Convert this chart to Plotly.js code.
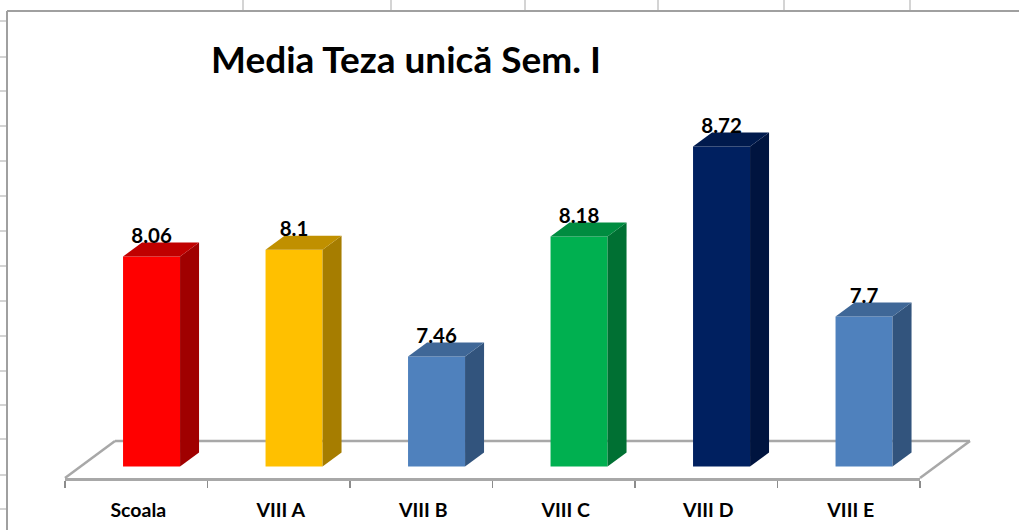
<!DOCTYPE html>
<html>
<head>
<meta charset="utf-8">
<script src="https://cdn.plot.ly/plotly-3.0.1.min.js"></script>
<style>html,body{margin:0;padding:0;background:#fff;overflow:hidden}</style>
</head>
<body>
<div id="chart" style="width:1019px;height:530px"></div>
<script>
// Data
const categories = ["Scoala", "VIII A", "VIII B", "VIII C", "VIII D", "VIII E"];
const values = [8.06, 8.1, 7.46, 8.18, 8.72, 7.7];
const labels = ["8.06", "8.1", "7.46", "8.18", "8.72", "7.7"];
const frontColors = ["#FF0000", "#FFC000", "#4F81BD", "#00B050", "#002060", "#4F81BD"];
const topColors = ["#C00000", "#C09000", "#3F6797", "#008C40", "#001A4D", "#3F6797"];
const sideColors = ["#A00000", "#A67D00", "#32547D", "#007033", "#00143F", "#32547D"];

// Chart geometry in axis units
const BASE = 6.8;
const PX_X = 142.5, PX_Y = 166.67;
const PLOT_L = 65, PLOT_R = 99, PLOT_T = 20, PLOT_B = 52, PLOT_H = 530 - PLOT_T - PLOT_B, PLOT_W = 1019 - PLOT_L - PLOT_R;
const yMin = BASE - 11.5 / PX_Y;
const yMax = yMin + PLOT_H / PX_Y;
const barOffset = -0.0927, barWidth = 0.4;
const depthX = 19 / PX_X, depthY = 14 / PX_Y;
const GREY = "#A8A8A8";
const FONT = "Lato, Carlito, Calibri, sans-serif";

const idx = categories.map((_, i) => i);
const traces = [];

// front faces
traces.push({
  type: "bar", x: idx, y: values.map(v => v - BASE), base: BASE,
  offset: barOffset, width: barWidth, cliponaxis: false,
  marker: {color: frontColors, line: {width: 0}}, showlegend: false, hoverinfo: "skip"
});

// top and side faces, derived from each value
values.forEach((v, i) => {
  const x0 = i + barOffset, x1 = x0 + barWidth;
  traces.push({
    type: "scatter", mode: "lines", fill: "toself", cliponaxis: false, hoverinfo: "skip", showlegend: false,
    x: [x1, x1 + depthX, x1 + depthX, x1, x1],
    y: [v, v + depthY, BASE + depthY, BASE, v],
    fillcolor: sideColors[i], line: {width: 0, color: sideColors[i]}
  });
  traces.push({
    type: "scatter", mode: "lines", fill: "toself", cliponaxis: false, hoverinfo: "skip", showlegend: false,
    x: [x0, x1, x1 + depthX, x0 + depthX, x0],
    y: [v, v, v + depthY, v + depthY, v],
    fillcolor: topColors[i], line: {width: 0, color: topColors[i]}
  });
});

// data labels
traces.push({
  type: "scatter", mode: "text", cliponaxis: false, hoverinfo: "skip", showlegend: false,
  x: idx.map(i => i + barOffset + barWidth / 2),
  y: values.map(v => v + 18.5 / PX_Y),
  text: labels, textposition: "middle center",
  textfont: {family: FONT, size: 20.5, color: "#000", weight: 700}
});

// page pixels into paper coordinates, for what sits outside the plot area
const px = p => (p - PLOT_L) / PLOT_W;
const py = p => (530 - PLOT_B - p) / PLOT_H;
const sheetLine = (x0, y0, x1, y1, color, width) => ({
  type: "line", xref: "paper", yref: "paper", layer: "below",
  x0: px(x0), y0: py(y0), x1: px(x1), y1: py(y1), line: {color, width}
});
const cellRows = [21, 57, 91, 126, 161, 196, 231, 266, 301, 336, 371, 405, 439, 475, 509];
const cellCols = [243, 391, 525, 658, 784, 910];
const shapes = [
  ...cellRows.map(y => sheetLine(0, y, 7, y, "#D4D4D4", 2)),
  ...cellCols.map(x => sheetLine(x, 0, x, 11, "#D4D4D4", 2)),
  sheetLine(7, 11, 1019, 11, "#A0A0A0", 2),
  sheetLine(7, 11, 7, 530, "#A0A0A0", 2),
  // chart floor
  sheetLine(65, 478, 115, 441, GREY, 2.5),
  sheetLine(115, 441, 970, 441, GREY, 2.5),
  sheetLine(970, 441, 920, 478, GREY, 2.5)
];

const layout = {
  width: 1019, height: 530,
  margin: {l: PLOT_L, r: PLOT_R, t: PLOT_T, b: PLOT_B, pad: 0},
  paper_bgcolor: "#fff", plot_bgcolor: "rgba(0,0,0,0)",
  showlegend: false,
  title: {
    text: "Media Teza unică Sem. I", xref: "container", yref: "container",
    x: 406 / 1019, xanchor: "center", y: 1 - 60 / 530, yanchor: "middle",
    font: {family: FONT, size: 37, color: "#000", weight: 700}
  },
  xaxis: {
    range: [-0.5, 5.5], tickmode: "array", tickvals: idx, ticktext: categories,
    showgrid: false, zeroline: false, fixedrange: true,
    showline: true, linecolor: GREY, linewidth: 2.5,
    ticks: "", ticklabelstandoff: 13, ticklabelshift: 2,
    tickfont: {family: FONT, size: 19.5, color: "#000", weight: 700},
    minor: {
      tickmode: "array", tickvals: [-0.5, 0.5, 1.5, 2.5, 3.5, 4.5, 5.5],
      ticks: "outside", ticklen: 7, tickwidth: 1.5, tickcolor: "#8C8C8C", showgrid: false
    }
  },
  yaxis: {range: [yMin, yMax], visible: false, fixedrange: true},
  shapes
};

Plotly.newPlot("chart", traces, layout, {displayModeBar: false, staticPlot: true});
</script>
</body>
</html>
